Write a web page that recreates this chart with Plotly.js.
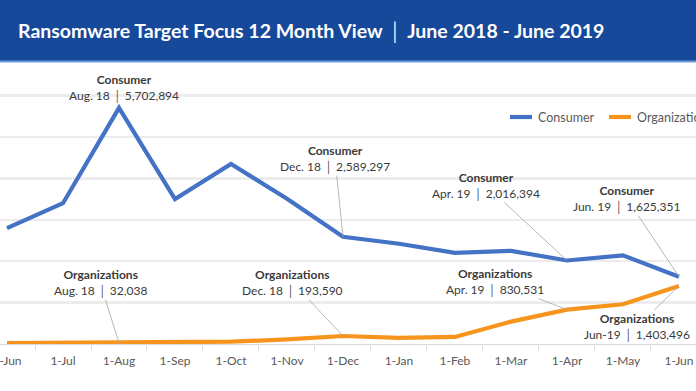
<!DOCTYPE html>
<html>
<head>
<meta charset="utf-8">
<script src="https://cdn.plot.ly/plotly-3.0.1.min.js"></script>
<style>html,body{margin:0;padding:0;background:#fff;}#chart{width:696px;height:391px;}</style>
</head>
<body>
<div id="chart"></div>
<script>
// ---- data ----
const months = ['1-Jun','1-Jul','1-Aug','1-Sep','1-Oct','1-Nov','1-Dec','1-Jan','1-Feb','1-Mar','1-Apr','1-May','1-Jun'];
const seriesNames = ['Consumer', 'Organizations'];
const consumer = [2800000, 3400000, 5702894, 3500000, 4350000, 3510000, 2589297, 2420000, 2200000, 2250000, 2016394, 2140000, 1625351];
const organizations = [20000, 25000, 32038, 40000, 55000, 110000, 193590, 150000, 170000, 540000, 830531, 960000, 1403496];
// callouts: series index, month index, period label
const calloutSeries = [0, 0, 0, 0, 1, 1, 1, 1];
const calloutMonth = [2, 6, 10, 12, 2, 6, 10, 12];
const calloutPeriod = ['Aug. 18', 'Dec. 18', 'Apr. 19', 'Jun. 19', 'Aug. 18', 'Dec. 18', 'Apr. 19', 'Jun-19'];

// ---- styling ----
const colors = ['#4472c4', '#f7941d'];
const calloutOffsets = [[5,-20],[-8,-78],[-81,-75],[-52,-78],[-19,-60],[-50,-53],[-72,-28],[-42,41]];
const FONT = 'Lato, "Open Sans", sans-serif';
const xIdx = months.map((_, i) => i);
const seriesData = [consumer, organizations];

const traces = seriesData.map((vals, s) => ({
  type: 'scatter', mode: 'lines', name: seriesNames[s],
  x: xIdx, y: vals,
  line: {color: colors[s], width: 4.2, shape: 'linear'},
  showlegend: false, hoverinfo: 'skip'
}));

const annotations = calloutSeries.map((s, k) => {
  const i = calloutMonth[k];
  const v = seriesData[s][i];
  return {
    x: i, y: v, xref: 'x', yref: 'y',
    text: '<b>' + seriesNames[s] + '</b><br>' + calloutPeriod[k] + ' \u2502 ' + v.toLocaleString('en-US'),
    showarrow: true, arrowhead: 0, arrowwidth: 0.8,
    arrowcolor: k === 0 ? 'rgba(0,0,0,0)' : '#a6a6a6',
    ax: calloutOffsets[k][0], ay: calloutOffsets[k][1],
    font: {family: FONT, size: 12, color: '#3a3a3a'},
    align: 'center'
  };
});

// manual legend
const W = 696, plotTop = 62, plotBottom = 344;
const legY = (plotBottom - 117) / (plotBottom - plotTop);
const legX = [510, 609];
const shapes = [
  {type: 'rect', xref: 'paper', yref: 'paper', x0: -0.05, x1: 1.05, y0: 1, y1: 1.4, fillcolor: '#17499b', line: {width: 0}, layer: 'above'},
  {type: 'line', xref: 'paper', yref: 'paper', x0: -0.05, x1: 1.05, y0: 1.002, y1: 1.002, line: {color: '#6f9be0', width: 2}, layer: 'above'}
];
seriesNames.forEach((n, s) => {
  shapes.push({type: 'line', xref: 'paper', yref: 'paper', x0: legX[s] / W, x1: (legX[s] + 22) / W, y0: legY, y1: legY, line: {color: colors[s], width: 4.2}});
  annotations.push({xref: 'paper', yref: 'paper', x: (legX[s] + 26) / W, y: legY, xanchor: 'left', yanchor: 'middle', showarrow: false, text: n, font: {family: FONT, size: 12.5, color: '#595959'}});
});

const layout = {
  width: 696, height: 391,
  margin: {l: 0, r: 0, t: plotTop, b: 391 - plotBottom, pad: 0},
  paper_bgcolor: '#ffffff', plot_bgcolor: '#ffffff',
  title: {
    text: '<b>Ransomware Target Focus 12 Month View</b> \u2502 <b>June 2018 - June 2019</b>',
    x: 18 / 696, xanchor: 'left', xref: 'paper',
    y: 1 - 31 / 391, yanchor: 'middle',
    font: {family: FONT, size: 19.5, color: '#ffffff'}
  },
  xaxis: {
    range: [-0.125, 12.304], tickmode: 'array', tickvals: xIdx, ticktext: months,
    ticks: '', showgrid: false, zeroline: false,
    showline: true, linecolor: '#d9d9d9', linewidth: 1,
    tickfont: {family: FONT, size: 12, color: '#595959'},
    ticklabelstandoff: 6, ticklabeloverflow: 'allow',
    minor: {tickmode: 'linear', tick0: 0.5, dtick: 1, ticks: 'outside', ticklen: 5, tickcolor: '#d9d9d9', showgrid: false},
    fixedrange: true
  },
  yaxis: {
    range: [0, 6.81e6], dtick: 1e6, tick0: 0, showticklabels: false, ticks: '',
    showgrid: true, gridcolor: '#ececec', gridwidth: 2.5, zeroline: false, fixedrange: true
  },
  shapes: shapes,
  annotations: annotations,
  showlegend: false
};

Plotly.newPlot('chart', traces, layout, {staticPlot: true, displayModeBar: false});
</script>
</body>
</html>
